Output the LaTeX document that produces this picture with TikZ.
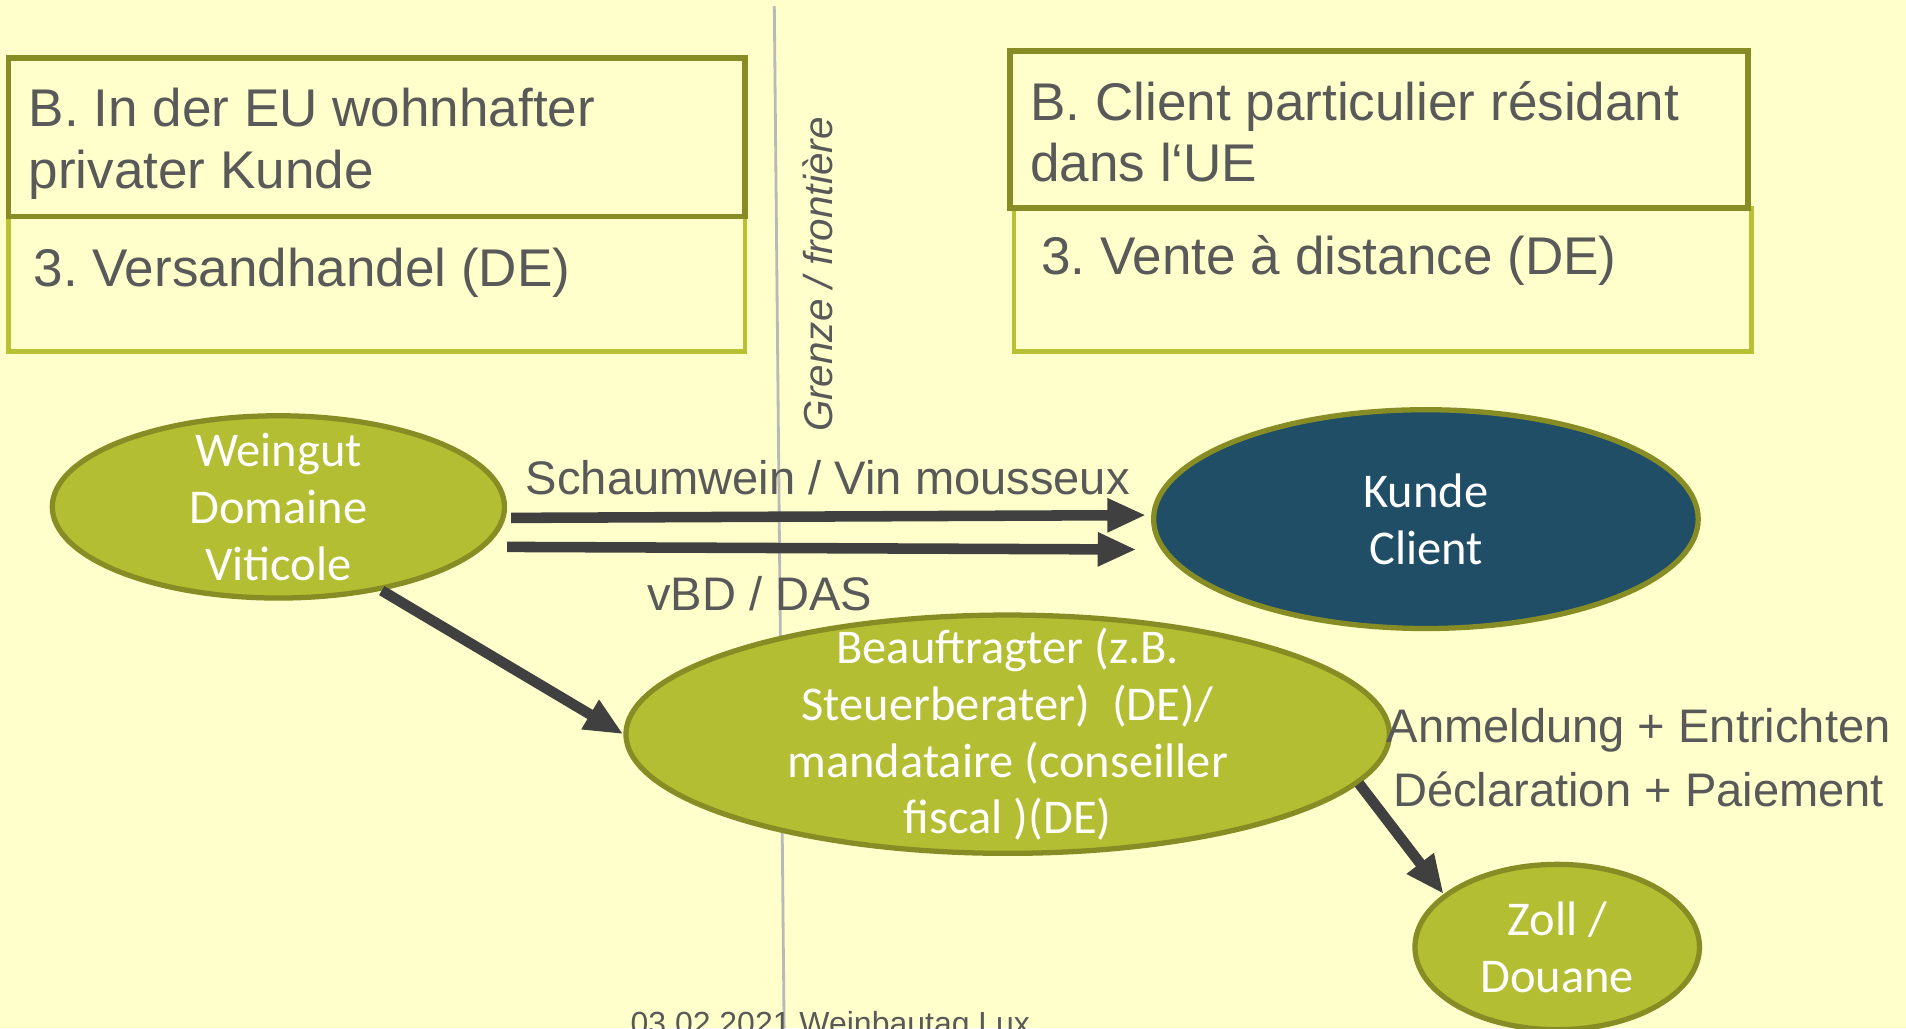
\documentclass[tikz,border=0pt]{standalone}
\usepackage{xcolor}
\usepackage{fontspec}
\setmainfont{Liberation Sans}
\newfontfamily\calfont{Carlito}
\usepackage{tikz}
\usetikzlibrary{arrows.meta,shapes.geometric}
\frenchspacing
\definecolor{bgyellow}{RGB}{255,255,204}
\definecolor{olivedark}{RGB}{135,141,36}
\definecolor{olivelight}{RGB}{184,193,52}
\definecolor{leaf}{RGB}{180,190,50}
\definecolor{kundeblue}{RGB}{31,78,102}
\definecolor{txtgray}{RGB}{89,89,89}
\definecolor{arrgray}{RGB}{64,64,64}
\tikzset{>={Triangle[length=11pt,width=9pt]}}
\tikzset{
  blob/.style={ellipse,draw=olivedark,line width=1.5pt,fill=leaf,text=white,
    font=\calfont\fontsize{13.8}{16.2}\selectfont,align=center,inner sep=-9pt},
  flow/.style={->,line width=3pt,draw=arrgray},
  lbl/.style={text=txtgray,font=\fontsize{13.4}{18.2}\selectfont,inner sep=0pt},
  boxtxt/.style={text=txtgray,font=\fontsize{15.1}{17.6}\selectfont,inner sep=0pt,align=left},
  hdbox/.style={draw=olivedark,line width=1.6pt},
  subbox/.style={draw=olivelight,line width=1.3pt}
}

\begin{document}
\begin{tikzpicture}
\fill[bgyellow] (0,0) rectangle (19.06,-10.28);
\useasboundingbox (0,0) rectangle (19.06,-10.28);
    \draw[subbox] (0.085,-2.164) rectangle (7.452,-3.513);
    \draw[hdbox] (0.085,-0.583) rectangle (7.452,-2.164);
    \draw[subbox] (10.138,-2.079) rectangle (17.517,-3.513);
    \draw[hdbox] (10.102,-0.511) rectangle (17.480,-2.079);
    \node[boxtxt,anchor=north west] (dehead) at (0.280,-0.876) {B. In der EU wohnhafter\\privater Kunde};
    \node[boxtxt,anchor=base west] (desub) at (0.328,-2.869) {3. Versandhandel (DE)};
    \node[boxtxt,anchor=north west] (frhead) at (10.296,-0.803) {B. Client particulier résidant\\dans l‘UE};
    \node[boxtxt,anchor=base west] (frsub) at (10.406,-2.747) {3. Vente à distance (DE)};
    \draw[gray!55,line width=0.8pt] (7.743,-0.061) -- (7.841,-10.284);
    \node[text=txtgray,font=\itshape\fontsize{11.5}{13}\selectfont,rotate=90,anchor=base,inner sep=0pt] (grenze) at (8.32,-2.747) {Grenze / frontière};
    \node[blob,minimum width=4.522cm,minimum height=1.823cm] (wein) at (2.784,-5.069) {Weingut\\Domaine\\Viticole};
    \node[blob,fill=kundeblue,minimum width=5.446cm,minimum height=2.188cm] (kunde) at (14.259,-5.191) {Kunde\\Client};
    \node[blob,minimum width=7.634cm,minimum height=2.383cm] (beau) at (10.077,-7.342) {Beauftragter (z.B.\\Steuerberater)~ (DE)/\\mandataire (conseiller\\fiscal )(DE)};
    \node[blob,minimum width=2.845cm,minimum height=1.653cm] (zoll) at (15.572,-9.470) {Zoll /\\Douane};
    \draw[flow] ([shift={(0.04,-0.11)}]wein.east) -- ([shift={(-0.05,0.04)}]kunde.west);
    \draw[flow] ([shift={(0,-0.40)}]wein.east) -- ([shift={(-0.146,-0.304)}]kunde.west);
    \draw[flow] (wein.-39) -- (beau.west);
    \draw[flow] (beau.-8.4) -- (zoll.155);
    \node[lbl,anchor=base] (schaum) at (8.278,-4.947) {Schaumwein / Vin mousseux};
    \node[lbl,anchor=base] (vbd) at (7.598,-6.100) {vBD / DAS};
    \node[lbl,align=center,anchor=north] (meld) at (16.386,-7.081) {Anmeldung + Entrichten\\Déclaration + Paiement};
    \node[text=txtgray,font=\fontsize{9.1}{11}\selectfont,anchor=base,inner sep=0pt] (foot) at (8.303,-10.34) {03.02.2021 Weinbautag Lux};
\end{tikzpicture}
\end{document}
